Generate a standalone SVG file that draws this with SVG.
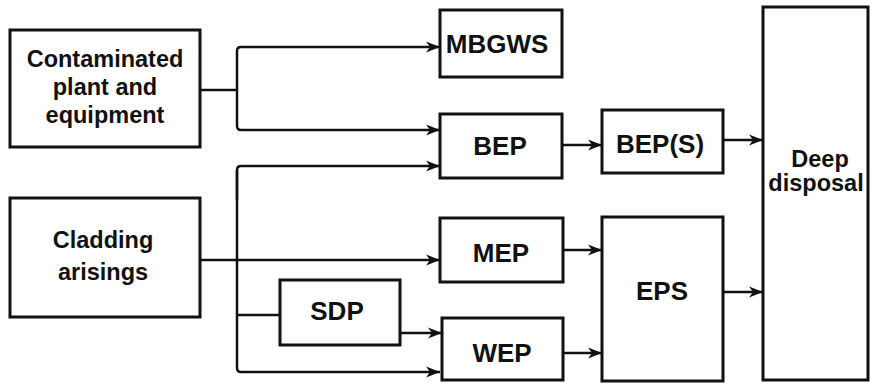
<svg xmlns="http://www.w3.org/2000/svg" width="874" height="384" viewBox="0 0 874 384">
<style>
.box{fill:#fff;stroke:#111;stroke-width:3}
.lbl{font-family:"Liberation Sans",Arial,sans-serif;font-weight:bold;font-size:26px;fill:#111;text-anchor:middle}
.sm{font-size:23.5px}
.con{fill:none;stroke:#111;stroke-width:2.5}
</style>
<defs>
<marker id="ah" markerUnits="userSpaceOnUse" markerWidth="16" markerHeight="12" refX="14" refY="6" orient="auto">
<path d="M0,0.5 L14,6 L0,11.5 L4,6 Z" fill="#111"/>
</marker>
</defs>
<rect width="874" height="384" fill="#fff"/>
<g id="connectors">
<path class="con" d="M200,90 H237"/>
<path class="con" d="M237,90 V51 Q237,47 241,47 H440" marker-end="url(#ah)"/>
<path class="con" d="M237,90 V126 Q237,130 241,130 H440" marker-end="url(#ah)"/>
<path class="con" d="M237,200 V170 Q237,166 241,166 H440" marker-end="url(#ah)"/>
<path class="con" d="M237,170 V368 Q237,372 241,372 H440" marker-end="url(#ah)"/>
<path class="con" d="M200,260 H440" marker-end="url(#ah)"/>
<path class="con" d="M237,315 H280"/>
<path class="con" d="M400,333 H442" marker-end="url(#ah)"/>
<path class="con" d="M562,145 H602" marker-end="url(#ah)"/>
<path class="con" d="M723,140 H763" marker-end="url(#ah)"/>
<path class="con" d="M563,250 H602" marker-end="url(#ah)"/>
<path class="con" d="M563,353 H602" marker-end="url(#ah)"/>
<path class="con" d="M723,292 H763" marker-end="url(#ah)"/>
</g>
<g id="contaminated">
<rect class="box" x="10" y="30" width="190" height="117"/>
<text class="lbl sm" x="105" y="67">Contaminated</text>
<text class="lbl sm" x="105" y="95">plant and</text>
<text class="lbl sm" x="105" y="123">equipment</text>
</g>
<g id="cladding">
<rect class="box" x="10" y="198" width="190" height="119"/>
<text class="lbl sm" x="103" y="248">Cladding</text>
<text class="lbl sm" x="103" y="280">arisings</text>
</g>
<g id="mbgws">
<rect class="box" x="440" y="10" width="122" height="67"/>
<text class="lbl" x="497" y="53">MBGWS</text>
</g>
<g id="bep">
<rect class="box" x="440" y="114" width="122" height="64"/>
<text class="lbl" x="500" y="155">BEP</text>
</g>
<g id="beps">
<rect class="box" x="602" y="110" width="121" height="63"/>
<text class="lbl" x="660" y="153">BEP(S)</text>
</g>
<g id="mep">
<rect class="box" x="440" y="218" width="123" height="64"/>
<text class="lbl" x="501" y="262">MEP</text>
</g>
<g id="sdp">
<rect class="box" x="280" y="280" width="120" height="65"/>
<text class="lbl" x="337" y="320">SDP</text>
</g>
<g id="wep">
<rect class="box" x="442" y="318" width="121" height="62"/>
<text class="lbl" x="502" y="362">WEP</text>
</g>
<g id="eps">
<rect class="box" x="602" y="217" width="121" height="164"/>
<text class="lbl" x="662" y="300">EPS</text>
</g>
<g id="deep">
<rect class="box" x="763" y="7" width="105" height="373"/>
<text class="lbl sm" x="820" y="167">Deep</text>
<text class="lbl sm" x="816" y="191">disposal</text>
</g>
</svg>
